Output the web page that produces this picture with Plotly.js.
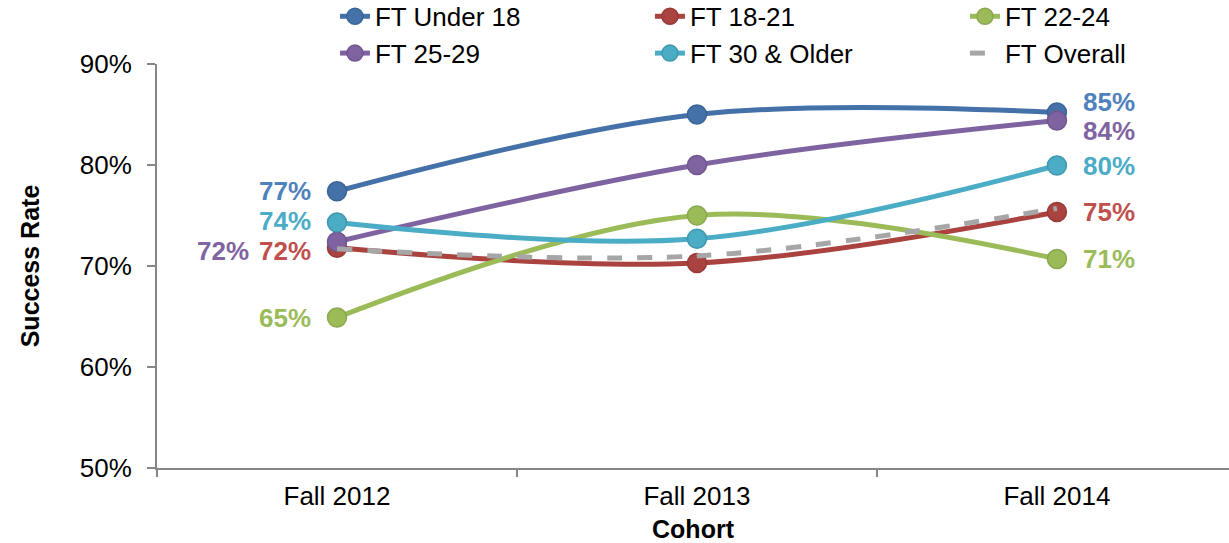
<!DOCTYPE html>
<html>
<head>
<meta charset="utf-8">
<script src="https://cdn.plot.ly/plotly-3.0.1.min.js"></script>
<style>html,body{margin:0;padding:0;background:#fff;}#chart{width:1229px;height:543px;}</style>
</head>
<body>
<div id="chart"></div>
<script>
const cohorts = ["Fall 2012", "Fall 2013", "Fall 2014"];
const seriesNames = ["FT Under 18", "FT 18-21", "FT 22-24", "FT 25-29", "FT 30 & Older", "FT Overall"];
const under18 = [77.4, 85.0, 85.2];
const age18to21 = [71.8, 70.3, 75.35];
const age22to24 = [64.9, 75.0, 70.7];
const age25to29 = [72.4, 80.0, 84.4];
const age30plus = [74.3, 72.7, 79.95];
const overall = [71.7, 71.0, 75.7];

const lineColors = ["#4471A8", "#AA423F", "#9BBB59", "#7F63A1", "#4BACC6", "#A6A6A6"];
const labelColors = ["#4F81BD", "#C0504D", "#9BBB59", "#8064A2", "#4BACC6", "#A6A6A6"];
const borderColors = ["#3B6496", "#963A37", "#8AA84E", "#6F568E", "#3F97AF", "#A6A6A6"];
const values = [under18, age18to21, age22to24, age25to29, age30plus, overall];
const showLabels = [true, true, true, true, true, false];
// label offsets (style only): [left xshift, left yshift, right xshift, right yshift]
const labelShift = [[-25, 0, 25, 10], [-25, -3, 25, 0], [-25, 0, 25, 0], [-87, -9, 25, -10], [-25, 2, 25, 0], [0, 0, 0, 0]];

const traces = values.map((v, i) => {
  const isOverall = i === 5;
  return {
    x: cohorts, y: v, name: seriesNames[i], type: "scatter",
    mode: isOverall ? "lines" : "lines+markers",
    line: {color: lineColors[i], width: 5, shape: "spline", smoothing: 1, dash: isOverall ? "dash" : "solid"},
    marker: {size: 19, color: lineColors[i], line: {color: borderColors[i], width: 1.5}},
    hoverinfo: "skip", cliponaxis: false
  };
});

const annotations = [];
values.forEach((v, i) => {
  if (!showLabels[i]) return;
  const s = labelShift[i];
  [[0, "right", s[0], s[1]], [v.length - 1, "left", s[2], s[3]]].forEach(([idx, anchor, xs, ys]) => {
    annotations.push({
      x: cohorts[idx], y: v[idx], xref: "x", yref: "y",
      text: Math.round(v[idx]) + "%", showarrow: false,
      xanchor: anchor, yanchor: "middle", xshift: xs, yshift: ys, borderpad: 0,
      font: {family: "Liberation Sans, Arial, sans-serif", size: 26, color: labelColors[i], weight: "bold"}
    });
  });
});

const layout = {
  width: 1229, height: 543,
  margin: {l: 157, r: 0, t: 64, b: 75, pad: 0, autoexpand: false},
  paper_bgcolor: "#ffffff", plot_bgcolor: "#ffffff",
  font: {family: "Liberation Sans, Arial, sans-serif", size: 26, color: "#000000"},
  showlegend: true,
  legend: {
    orientation: "h", xref: "paper", yref: "paper",
    x: 0.166, y: 1.176, xanchor: "left", yanchor: "top",
    entrywidth: 270, entrywidthmode: "pixels",
    font: {size: 26}, bgcolor: "rgba(0,0,0,0)", traceorder: "normal",
    itemwidth: 30, tracegroupgap: 0
  },
  xaxis: {
    type: "category", range: [-0.5, 2.478], fixedrange: true,
    showline: true, linecolor: "#868686", linewidth: 2,
    ticks: "outside", tickson: "boundaries", ticklen: 7, tickwidth: 2, tickcolor: "#868686",
    showgrid: false, zeroline: false,
    tickfont: {size: 26, color: "#000"},
    ticklabelstandoff: 4,
    title: {text: "Cohort", font: {size: 25, weight: "bold"}, standoff: 13}
  },
  yaxis: {
    range: [50, 90], dtick: 10, tick0: 50, ticksuffix: "%", fixedrange: true,
    showline: true, linecolor: "#868686", linewidth: 2,
    ticks: "outside", ticklen: 8, tickwidth: 2, tickcolor: "#868686",
    showgrid: false, zeroline: false,
    tickfont: {size: 26, color: "#000"},
    ticklabelstandoff: 10,
    title: {text: "Success Rate", font: {size: 25, weight: "bold"}, standoff: 33}
  },
  annotations: annotations
};

Plotly.newPlot("chart", traces, layout, {displayModeBar: false, staticPlot: true});
</script>
</body>
</html>
